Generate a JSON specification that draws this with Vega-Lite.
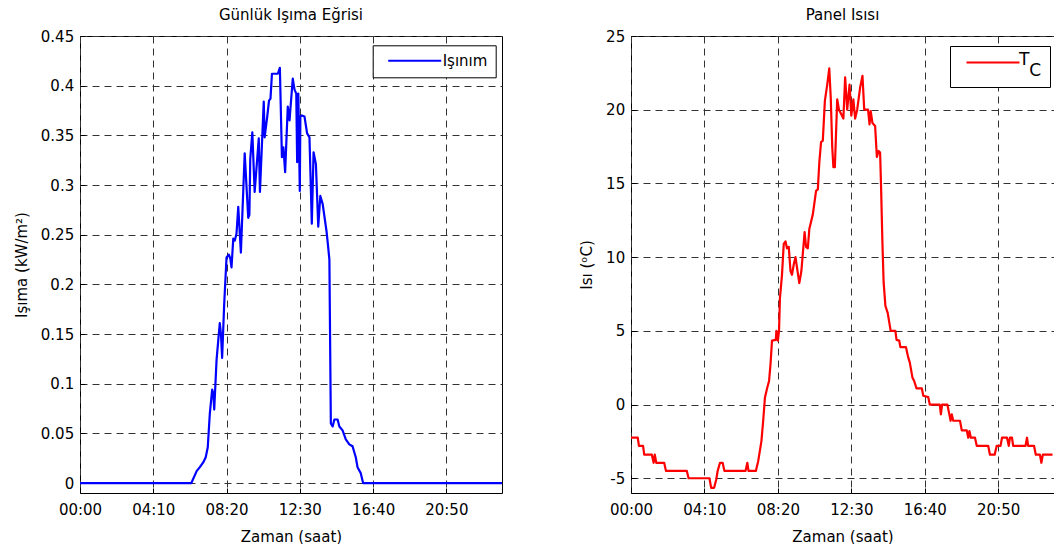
{
  "$schema": "https://vega.github.io/schema/vega-lite/v6.json",
  "background": "white",
  "padding": {"left": 13, "top": 7, "right": 0, "bottom": 0},
  "datasets": {
    "irr": [
      {"t":0,"v":0},{"t":380,"v":0},{"t":398,"v":0.012},{"t":409,"v":0.016},{"t":421,"v":0.021},{"t":429,"v":0.026},{"t":436,"v":0.036},{"t":443,"v":0.07},{"t":451,"v":0.094},{"t":455,"v":0.09},{"t":458,"v":0.074},{"t":466,"v":0.124},{"t":477,"v":0.161},{"t":481,"v":0.15},{"t":485,"v":0.126},{"t":492,"v":0.18},{"t":500,"v":0.227},{"t":508,"v":0.23},{"t":513,"v":0.226},{"t":517,"v":0.217},{"t":523,"v":0.246},{"t":528,"v":0.244},{"t":534,"v":0.251},{"t":540,"v":0.278},{"t":549,"v":0.232},{"t":562,"v":0.332},{"t":574,"v":0.267},{"t":578,"v":0.27},{"t":581,"v":0.326},{"t":588,"v":0.353},{"t":596,"v":0.293},{"t":610,"v":0.347},{"t":614,"v":0.293},{"t":627,"v":0.384},{"t":630,"v":0.348},{"t":639,"v":0.369},{"t":645,"v":0.385},{"t":650,"v":0.387},{"t":655,"v":0.412},{"t":675,"v":0.412},{"t":682,"v":0.418},{"t":689,"v":0.328},{"t":694,"v":0.338},{"t":700,"v":0.313},{"t":709,"v":0.379},{"t":715,"v":0.365},{"t":726,"v":0.407},{"t":732,"v":0.396},{"t":738,"v":0.392},{"t":741,"v":0.323},{"t":745,"v":0.392},{"t":750,"v":0.294},{"t":752,"v":0.369},{"t":757,"v":0.37},{"t":766,"v":0.369},{"t":775,"v":0.352},{"t":783,"v":0.348},{"t":791,"v":0.261},{"t":797,"v":0.333},{"t":805,"v":0.321},{"t":813,"v":0.258},{"t":820,"v":0.289},{"t":828,"v":0.281},{"t":841,"v":0.254},{"t":846,"v":0.24},{"t":851,"v":0.225},{"t":856,"v":0.06},{"t":862,"v":0.057},{"t":868,"v":0.064},{"t":879,"v":0.064},{"t":885,"v":0.057},{"t":896,"v":0.053},{"t":907,"v":0.044},{"t":919,"v":0.039},{"t":930,"v":0.037},{"t":941,"v":0.026},{"t":947,"v":0.016},{"t":958,"v":0.01},{"t":966,"v":0},{"t":1440,"v":0}
    ],
    "temp": [
      {"t":0,"v":-2.25},{"t":23,"v":-2.25},{"t":27,"v":-2.8},{"t":41,"v":-2.8},{"t":45,"v":-3.4},{"t":71,"v":-3.4},{"t":77,"v":-3.95},{"t":81,"v":-3.4},{"t":86,"v":-3.95},{"t":113,"v":-3.95},{"t":119,"v":-4.5},{"t":190,"v":-4.5},{"t":196,"v":-5},{"t":267,"v":-5},{"t":273,"v":-5.65},{"t":283,"v":-5.65},{"t":290,"v":-5.1},{"t":295,"v":-4.5},{"t":303,"v":-3.95},{"t":312,"v":-3.95},{"t":318,"v":-4.5},{"t":390,"v":-4.5},{"t":396,"v":-3.95},{"t":400,"v":-4.5},{"t":425,"v":-4.5},{"t":433,"v":-3.84},{"t":444,"v":-2.48},{"t":450,"v":-1.1},{"t":456,"v":0.48},{"t":464,"v":1.16},{"t":470,"v":1.6},{"t":475,"v":2.75},{"t":480,"v":4.34},{"t":493,"v":4.39},{"t":495,"v":5.0},{"t":500,"v":4.34},{"t":504,"v":5.02},{"t":507,"v":7.2},{"t":514,"v":8.8},{"t":520,"v":10.9},{"t":526,"v":11.06},{"t":531,"v":10.6},{"t":537,"v":10.7},{"t":543,"v":9.06},{"t":548,"v":8.8},{"t":554,"v":9.5},{"t":560,"v":10.0},{"t":565,"v":9.3},{"t":573,"v":8.24},{"t":580,"v":9.06},{"t":591,"v":11.7},{"t":596,"v":10.7},{"t":602,"v":10.6},{"t":607,"v":11.9},{"t":619,"v":12.9},{"t":630,"v":14.5},{"t":636,"v":14.6},{"t":641,"v":16.4},{"t":647,"v":17.8},{"t":653,"v":17.9},{"t":660,"v":20.6},{"t":668,"v":21.7},{"t":675,"v":22.8},{"t":680,"v":20.8},{"t":685,"v":17.5},{"t":689,"v":16.1},{"t":694,"v":16.1},{"t":702,"v":20.7},{"t":708,"v":20.0},{"t":718,"v":19.6},{"t":723,"v":19.4},{"t":729,"v":22.2},{"t":736,"v":20.0},{"t":744,"v":21.7},{"t":750,"v":19.6},{"t":757,"v":20.7},{"t":763,"v":19.4},{"t":770,"v":20.0},{"t":780,"v":21.5},{"t":788,"v":22.3},{"t":794,"v":20.0},{"t":807,"v":20.0},{"t":812,"v":19.0},{"t":816,"v":19.9},{"t":822,"v":19.1},{"t":831,"v":18.9},{"t":837,"v":16.8},{"t":843,"v":17.2},{"t":848,"v":17.1},{"t":851,"v":15.0},{"t":856,"v":10.9},{"t":860,"v":8.3},{"t":866,"v":6.7},{"t":874,"v":6.2},{"t":884,"v":5.0},{"t":900,"v":5.0},{"t":904,"v":4.39},{"t":913,"v":4.34},{"t":917,"v":3.9},{"t":936,"v":3.9},{"t":943,"v":3.25},{"t":949,"v":2.86},{"t":958,"v":1.84},{"t":964,"v":1.6},{"t":972,"v":1.1},{"t":990,"v":1.1},{"t":995,"v":0.6},{"t":1012,"v":0.5},{"t":1017,"v":0},{"t":1051,"v":0},{"t":1055,"v":-0.66},{"t":1059,"v":0},{"t":1077,"v":0},{"t":1083,"v":-0.6},{"t":1088,"v":-1.1},{"t":1092,"v":-0.66},{"t":1097,"v":-1.1},{"t":1120,"v":-1.1},{"t":1126,"v":-1.75},{"t":1143,"v":-1.75},{"t":1148,"v":-2.25},{"t":1152,"v":-1.8},{"t":1157,"v":-2.25},{"t":1171,"v":-2.25},{"t":1177,"v":-2.8},{"t":1216,"v":-2.8},{"t":1222,"v":-3.4},{"t":1238,"v":-3.4},{"t":1245,"v":-2.8},{"t":1258,"v":-2.8},{"t":1263,"v":-2.25},{"t":1280,"v":-2.25},{"t":1286,"v":-2.8},{"t":1290,"v":-2.25},{"t":1297,"v":-2.25},{"t":1301,"v":-2.8},{"t":1343,"v":-2.8},{"t":1348,"v":-2.25},{"t":1352,"v":-2.8},{"t":1372,"v":-2.8},{"t":1378,"v":-3.4},{"t":1392,"v":-3.4},{"t":1397,"v":-3.95},{"t":1402,"v":-3.4},{"t":1435,"v":-3.4}
    ]
  },
  "config": {
    "font": "DejaVu Sans",
    "view": {"stroke": "black", "strokeWidth": 1},
    "axis": {
      "labelFontSize": 15, "titleFontSize": 15, "titleFontWeight": "normal",
      "labelColor": "black", "titleColor": "black",
      "domain": false, "tickColor": "black", "tickSize": -5, "tickWidth": 1,
      "grid": true, "gridColor": "#333333", "gridDash": [7, 5], "gridWidth": 1, "gridOpacity": 1,
      "labelFlush": false, "labelOverlap": false
    },
    "axisX": {"labelPadding": 14, "titlePadding": 12},
    "axisY": {"labelPadding": 11.3, "titlePadding": 11},
    "title": {"fontSize": 15, "fontWeight": "normal", "color": "black", "offset": 6},
    "legend": {
      "orient": "none", "strokeColor": "black", "fillColor": "white", "padding": 8,
      "labelFontSize": 15, "labelColor": "black", "symbolType": "M0,0L26.5,0",
      "symbolSize": 16, "symbolStrokeWidth": 2, "labelOffset": 47, "cornerRadius": 0
    }
  },
  "spacing": 76,
  "resolve": {"scale": {"color": "independent"}, "legend": {"color": "independent"}},
  "hconcat": [
    {
      "width": 422, "height": 457,
      "title": {"text": "Günlük Işıma Eğrisi"},
      "data": {"name": "irr"},
      "mark": {"type": "line", "strokeWidth": 2.2, "strokeJoin": "round", "clip": true},
      "encoding": {
        "x": {"field": "t", "type": "quantitative",
          "scale": {"domain": [0, 1440], "nice": false, "zero": false},
          "axis": {"values": [0, 250, 500, 750, 1000, 1250],
            "labelExpr": "timeFormat(datetime(2000,0,1,0,datum.value,0),'%H:%M')",
            "title": "Zaman (saat)"}},
        "y": {"field": "v", "type": "quantitative",
          "scale": {"domain": [-0.01, 0.45], "nice": false, "zero": false},
          "axis": {"values": [0, 0.05, 0.1, 0.15, 0.2, 0.25, 0.3, 0.35, 0.4, 0.45],
            "labelExpr": "'' + datum.value", "title": "Işıma (kW/m²)"}},
        "color": {"datum": "Işınım", "type": "nominal",
          "scale": {"range": ["#0000ff"]},
          "legend": {"title": null, "legendX": 292.7, "legendY": 9.3, "symbolStrokeColor": "#0000ff"}}
      }
    },
    {
      "width": 423, "height": 457,
      "title": {"text": "Panel Isısı"},
      "data": {"name": "temp"},
      "mark": {"type": "line", "strokeWidth": 2.2, "strokeJoin": "round", "clip": true},
      "encoding": {
        "x": {"field": "t", "type": "quantitative",
          "scale": {"domain": [0, 1440], "nice": false, "zero": false},
          "axis": {"values": [0, 250, 500, 750, 1000, 1250],
            "labelExpr": "timeFormat(datetime(2000,0,1,0,datum.value,0),'%H:%M')",
            "title": "Zaman (saat)"}},
        "y": {"field": "v", "type": "quantitative",
          "scale": {"domain": [-6, 25], "nice": false, "zero": false},
          "axis": {"values": [-5, 0, 5, 10, 15, 20, 25],
            "labelExpr": "'' + datum.value", "title": "Isı (ᵒC)"}},
        "color": {"datum": "TC", "type": "nominal",
          "scale": {"range": ["#ff0000"]},
          "legend": {"title": null, "legendX": 319, "legendY": 10, "symbolStrokeColor": "#ff0000",
            "labelFontSize": 17, "labelOffset": 44,
            "labelExpr": "['T', '\u200b\u2002\u200aC']",
            "encode": {"labels": {"update": {"dy": {"value": -2.3}, "lineHeight": {"value": 10.3}}}}}}
      }
    }
  ]
}
